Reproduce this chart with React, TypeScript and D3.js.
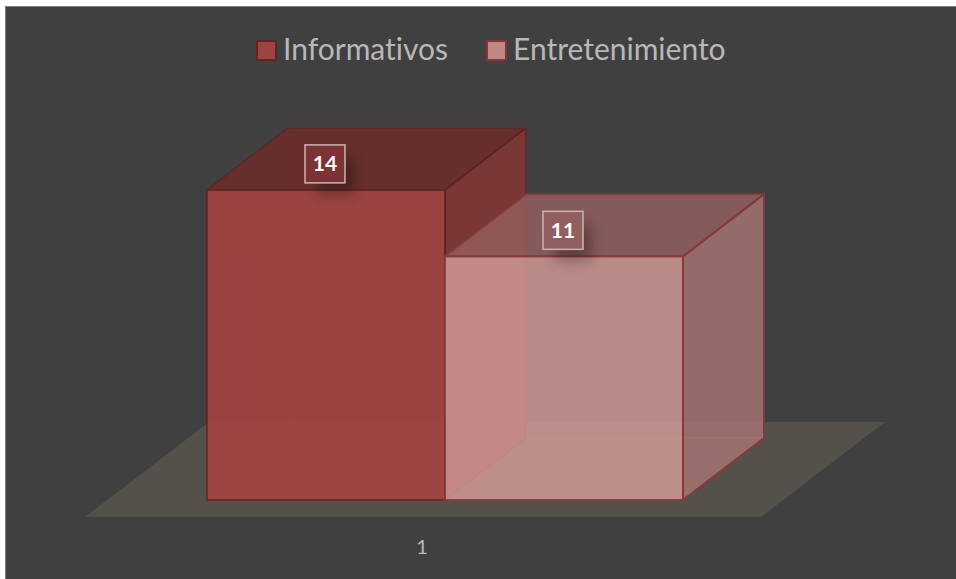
import React from 'react';
import * as d3 from 'd3';

const seriesNames = ['Informativos', 'Entretenimiento'];
const seriesValues = [14, 11];
const categoryLabels = ['1'];

const W = 956, H = 579;
const baseY = 500, perUnit = 22.15;
const depthX = 81, depthY = -62;

const x = d3.scaleBand<string>().domain(seriesNames).range([207, 683]).paddingInner(0).paddingOuter(0);
const y = d3.scaleLinear().domain([0, 14]).range([baseY, baseY - 14 * perUnit]);

const poly = (pts: [number, number][]) => (d3.line()(pts) || '') + 'Z';

const palettes = [
  { front: '#a44442', top: '#6a2e2c', side: '#7f3736', stroke: '#5c2322', back: '#c04040', backOp: 0.9, op: 0.9, sw: 1.5, label: '#7b3433' },
  { front: '#d79d9a', top: '#966060', side: '#a97675', stroke: '#853a39', back: '#c98a88', backOp: 0.2, op: 0.8, sw: 2, label: '#925f5f' },
];

function Bar({ i }: { i: number }) {
  const p = palettes[i];
  const x0 = x(seriesNames[i])!;
  const x1 = x0 + x.bandwidth();
  const yT = y(seriesValues[i]);
  const yB = y(0);
  const dx = depthX, dy = depthY;
  const side = poly([[x1, yT], [x1 + dx, yT + dy], [x1 + dx, yB + dy], [x1, yB]]);
  const top = poly([[x0, yT], [x1, yT], [x1 + dx, yT + dy], [x0 + dx, yT + dy]]);
  const front = poly([[x0, yT], [x1, yT], [x1, yB], [x0, yB]]);
  return (
    <g>
      {/* hidden faces */}
      <path d={poly([[x0, yB], [x1, yB], [x1 + dx, yB + dy], [x0 + dx, yB + dy]])} fill={p.back} fillOpacity={0.04} stroke={p.back} strokeOpacity={p.backOp} />
      <path d={poly([[x0 + dx, yT + dy], [x1 + dx, yT + dy], [x1 + dx, yB + dy], [x0 + dx, yB + dy]])} fill={p.back} fillOpacity={0.03} stroke={p.back} strokeOpacity={p.backOp} />
      {/* visible faces */}
      <g opacity={p.op}>
        <path d={side} fill={p.side} />
        <path d={top} fill={p.top} />
        <path d={front} fill={p.front} />
      </g>
      <g fill="none" stroke={p.stroke} strokeWidth={p.sw} strokeLinejoin="round">
        <path d={side} />
        <path d={top} strokeOpacity={0.8} />
        <path d={front} strokeOpacity={0.9} />
      </g>
    </g>
  );
}

function DataLabel({ i }: { i: number }) {
  const cx = x(seriesNames[i])! + x.bandwidth() / 2 - 1;
  const cy = y(seriesValues[i]) - 26;
  return (
    <g>
      <rect x={cx - 8} y={cy - 6} width={36} height={36} fill="#000" opacity={0.3} filter="url(#blur)" />
      <rect x={cx - 20} y={cy - 19} width={40} height={38} fill={palettes[i].label} stroke="#c9b5b5" strokeWidth={1.5} />
      <text x={cx} y={cy + 7.5} textAnchor="middle" fontFamily="Lato, sans-serif" fontWeight={700} fontSize={21} fill="#fff">{seriesValues[i]}</text>
    </g>
  );
}

const legendItems = [
  { name: seriesNames[0], box: 257, text: 283, fill: '#9c4442', stroke: '#5f2524' },
  { name: seriesNames[1], box: 487, text: 513, fill: '#c08785', stroke: '#843736' },
];

export default function App() {
  return (
    <svg width={W} height={H} viewBox={`0 0 ${W} ${H}`} style={{ position: 'absolute', left: 0, top: 0, background: '#fff' }}>
      <defs>
        <filter id="blur" x="-60%" y="-60%" width="220%" height="220%">
          <feGaussianBlur stdDeviation="7" />
        </filter>
      </defs>
      <rect x={5.5} y={6.5} width={W - 5} height={H - 6} fill="#404040" stroke="#7f7f7f" />
      <path d={poly([[85, 517], [761, 517], [885, 422], [209, 422]])} fill="#53514a" />
      <Bar i={0} />
      <Bar i={1} />
      <DataLabel i={0} />
      <DataLabel i={1} />
      {legendItems.map(l => (
        <g key={l.name}>
          <rect x={l.box} y={41} width={19} height={19} fill={l.fill} stroke={l.stroke} strokeWidth={2} />
          <text x={l.text} y={59.5} fontFamily="Lato, sans-serif" fontSize={30} fill="#b8b8b8" style={{ fontVariantLigatures: 'none' }}>{l.name}</text>
        </g>
      ))}
      <text x={422} y={554} textAnchor="middle" fontFamily="Lato, sans-serif" fontSize={20} fill="#b8b8b8">{categoryLabels[0]}</text>
    </svg>
  );
}
